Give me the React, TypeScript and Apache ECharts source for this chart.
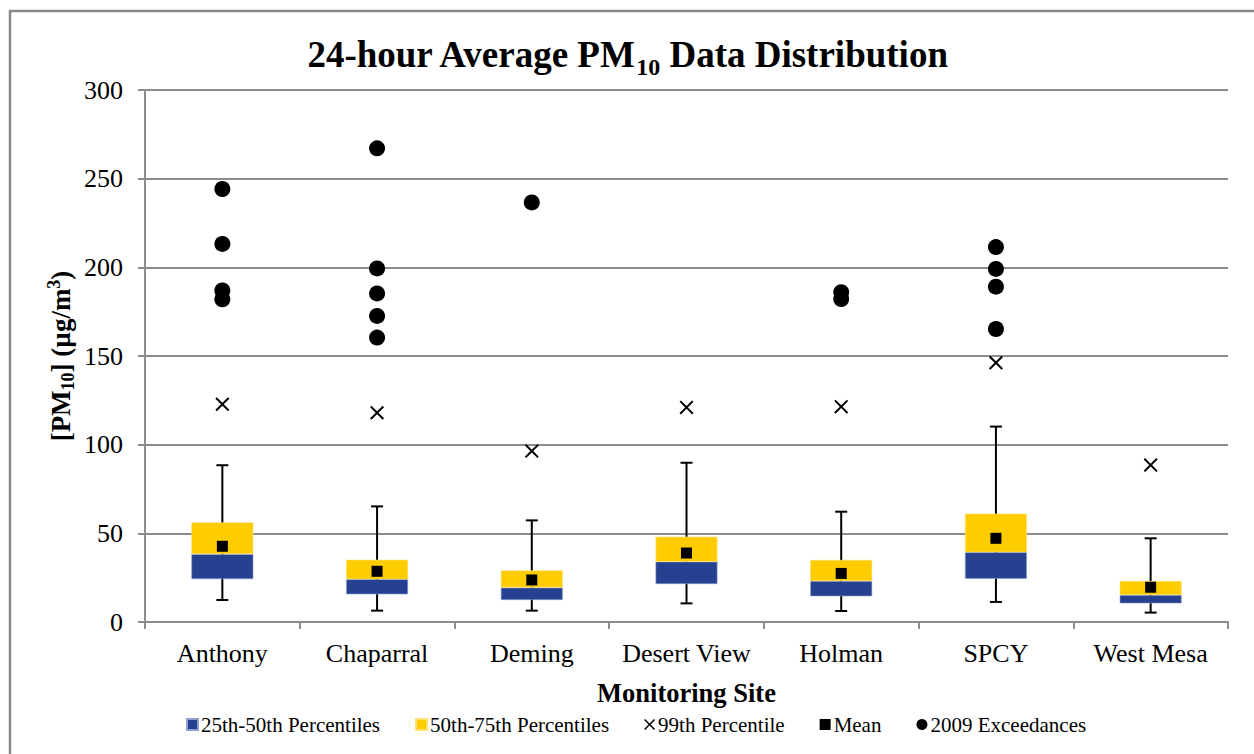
import React, { useEffect, useRef } from "react";
import * as echarts from "echarts";

const sites = ["Anthony", "Chaparral", "Deming", "Desert View", "Holman", "SPCY", "West Mesa"];
const p25 = [24.2, 15.6, 12.4, 21.4, 14.5, 24.4, 10.5];
const p50 = [38.3, 24.1, 19.4, 34.0, 23.1, 39.3, 15.2];
const p75 = [56.2, 35.1, 29.1, 48.1, 35.0, 61.1, 23.1];
const whiskerLow = [12.4, 6.4, 6.4, 10.5, 6.2, 11.3, 5.3];
const whiskerHigh = [88.4, 65.2, 57.3, 89.8, 62.2, 110.2, 47.2];
const means = [42.7, 28.6, 23.7, 38.9, 27.4, 47.2, 19.6];
const p99 = [122.8, 118.0, 96.4, 121.0, 121.4, 146.2, 88.5];
const exceedances: number[][] = [
  [244.2, 213.2, 187.0, 182.0],
  [267.1, 199.4, 185.3, 172.6, 160.4],
  [236.6],
  [],
  [186.0, 182.1],
  [211.4, 199.1, 189.1, 165.2],
  [],
];
const yTicks = { min: 0, max: 300, interval: 50 };

const BLUE = "#25418F";
const YELLOW = "#FFCC00";
const GRID = "#8C8C8C";
const FONT = "'Liberation Serif', 'Times New Roman', serif";
const XPATH =
  "path://M0,1L1,0L5,4L9,0L10,1L6,5L10,9L9,10L5,6L1,10L0,9L4,5Z";

export default function App() {
  const ref = useRef<HTMLDivElement>(null);
  useEffect(() => {
    document.body.style.margin = "0";
    const chart = echarts.init(ref.current!, null, { renderer: "svg" });
    const exData: number[][] = [];
    exceedances.forEach((arr, i) => arr.forEach((v) => exData.push([i, v])));
    chart.setOption({
      animation: false,
      backgroundColor: "#ffffff",
      textStyle: { fontFamily: FONT, color: "#000" },
      title: {
        left: "center",
        top: 28,
        text: "{a|24-hour Average PM}{s|10}{a| Data Distribution}",
        textStyle: {
          rich: {
            a: { fontFamily: FONT, fontSize: 37, fontWeight: "bold", color: "#000", lineHeight: 42, verticalAlign: "middle" },
            s: { fontFamily: FONT, fontSize: 24, fontWeight: "bold", color: "#000", lineHeight: 24, verticalAlign: "bottom", padding: [0, 0, -4, 0] },
          },
        },
      },
      graphic: [
        {
          type: "rect",
          shape: { x: 10, y: 11, width: 1300, height: 800 },
          style: { fill: "none", stroke: "#8A8A8A", lineWidth: 2.5 },
          silent: true,
          z: -1,
        },
      ],
      legend: {
        top: 709,
        left: 181,
        itemWidth: 11,
        itemHeight: 11,
        itemGap: 35,
        textStyle: { fontFamily: FONT, fontSize: 21, color: "#000", padding: [0, 0, 0, -2] },
        data: [
          { name: "25th-50th Percentiles", icon: "rect" },
          { name: "50th-75th Percentiles", icon: "rect" },
          { name: "99th Percentile", icon: XPATH },
          { name: "Mean", icon: "rect" },
          { name: "2009 Exceedances", icon: "circle" },
        ],
      },
      grid: { left: 145, right: 26, top: 90, bottom: 132, containLabel: false },
      xAxis: {
        type: "category",
        data: sites,
        name: "Monitoring Site",
        nameLocation: "middle",
        nameGap: 57,
        nameTextStyle: { fontFamily: FONT, fontSize: 26.5, fontWeight: "bold", color: "#000" },
        axisLine: { lineStyle: { color: GRID, width: 2 } },
        axisTick: { show: true, interval: 0, length: 7, lineStyle: { color: GRID, width: 2 } },
        axisLabel: { interval: 0, fontFamily: FONT, fontSize: 26, color: "#000", margin: 18 },
      },
      yAxis: {
        type: "value",
        min: yTicks.min,
        max: yTicks.max,
        interval: yTicks.interval,
        name: "{a|[PM}{s|10}{a|] (µg/m}{p|3}{a|)}",
        nameLocation: "middle",
        nameRotate: 90,
        nameGap: 68,
        nameMoveOverlap: false,
        nameTextStyle: {
          rich: {
            a: { fontFamily: FONT, fontSize: 27, fontWeight: "bold", color: "#000", lineHeight: 32, verticalAlign: "middle" },
            s: { fontFamily: FONT, fontSize: 18, fontWeight: "bold", color: "#000", lineHeight: 18, verticalAlign: "bottom" },
            p: { fontFamily: FONT, fontSize: 18, fontWeight: "bold", color: "#000", lineHeight: 18, verticalAlign: "top" },
          },
        },
        axisLine: { show: true, lineStyle: { color: GRID, width: 2 } },
        axisTick: { show: true, length: 7, lineStyle: { color: GRID, width: 2 } },
        axisLabel: { fontFamily: FONT, fontSize: 26, color: "#000", margin: 22 },
        splitLine: { lineStyle: { color: GRID, width: 2 } },
      },
      series: [
        {
          type: "custom",
          name: "whiskers",
          z: 1,
          silent: true,
          data: sites.map((_, i) => [i, whiskerLow[i], whiskerHigh[i]]),
          encode: { x: 0, y: [1, 2] },
          renderItem: (params: any, api: any) => {
            const i = api.value(0);
            const lo = api.coord([i, api.value(1)]);
            const hi = api.coord([i, api.value(2)]);
            const hw = 6;
            const st = { stroke: "#000", lineWidth: 2 };
            return {
              type: "group",
              children: [
                { type: "line", shape: { x1: lo[0], y1: lo[1], x2: hi[0], y2: hi[1] }, style: st },
                { type: "line", shape: { x1: hi[0] - hw, y1: hi[1], x2: hi[0] + hw, y2: hi[1] }, style: st },
                { type: "line", shape: { x1: lo[0] - hw, y1: lo[1], x2: lo[0] + hw, y2: lo[1] }, style: st },
              ],
            };
          },
        },
        {
          type: "bar",
          name: "base",
          stack: "box",
          barWidth: "40%",
          z: 2,
          silent: true,
          itemStyle: { color: "transparent" },
          data: p25,
        },
        {
          type: "bar",
          name: "25th-50th Percentiles",
          stack: "box",
          barWidth: "40%",
          z: 2,
          itemStyle: { color: BLUE, borderColor: "#8FA0D0", borderWidth: 0.6 },
          data: p50.map((v, i) => +(v - p25[i]).toFixed(2)),
        },
        {
          type: "bar",
          name: "50th-75th Percentiles",
          stack: "box",
          barWidth: "40%",
          z: 2,
          itemStyle: { color: YELLOW, borderColor: "#FFE070", borderWidth: 0.6 },
          data: p75.map((v, i) => +(v - p50[i]).toFixed(2)),
        },
        {
          type: "scatter",
          name: "99th Percentile",
          symbol: XPATH,
          symbolSize: 14,
          z: 3,
          itemStyle: { color: "#000", opacity: 1 },
          data: p99.map((v, i) => [i, v]),
        },
        {
          type: "scatter",
          name: "Mean",
          symbol: "rect",
          symbolSize: 11,
          z: 4,
          itemStyle: { color: "#000", opacity: 1 },
          data: means.map((v, i) => [i, v]),
        },
        {
          type: "scatter",
          name: "2009 Exceedances",
          symbol: "circle",
          symbolSize: 16,
          z: 3,
          itemStyle: { color: "#000", opacity: 1 },
          data: exData,
        },
      ],
    });
    return () => chart.dispose();
  }, []);
  return <div ref={ref} style={{ width: 1254, height: 754 }} />;
}
